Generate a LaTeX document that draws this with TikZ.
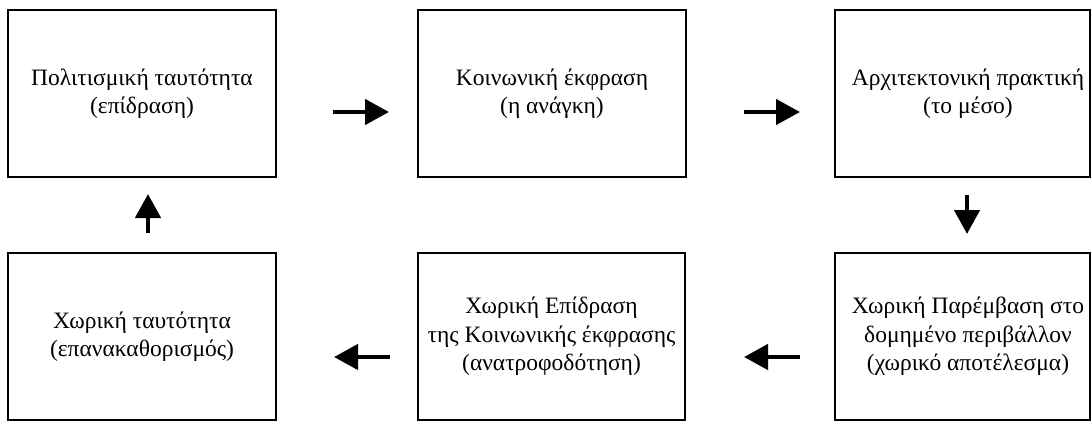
\documentclass[tikz,border=0pt]{standalone}
\usepackage{fontspec}
\setmainfont{Liberation Serif}
\usetikzlibrary{arrows.meta,calc}
\begin{document}
\begin{tikzpicture}[x=1pt,y=-1pt,
  box/.style={draw,line width=2pt,minimum height=167pt,inner sep=0pt,outer sep=0pt,anchor=north west,
              align=center,font=\fontsize{23.5}{28.5}\selectfont},
  lbl/.style={align=center,font=\fontsize{23.5}{28.5}\selectfont,inner sep=0pt},
  arr/.style={line width=4.5pt,-{Triangle[length=24pt,width=25pt]}}]
\fill[white] (0,0) rectangle (1091,421);
\useasboundingbox (0,0) rectangle (1091,421);
% top row
\node[box,minimum width=268pt] (b1) at (8,10) {Πολιτισμική ταυτότητα\\(επίδραση)};
\node[box,minimum width=268pt] (b2) at (418,10) {Κοινωνική έκφραση\\(η ανάγκη)};
\node[box,minimum width=255pt] (b3) at (835,10) {};
\node[lbl] (t3) at ($(b3.center)+(5.5,0)$) {Αρχιτεκτονική πρακτική\\(το μέσο)};
% bottom row
\node[box,minimum width=268pt] (b4) at (8,253) {Χωρική ταυτότητα\\(επανακαθορισμός)};
\node[box,minimum width=267pt] (b5) at (418,253) {Χωρική Επίδραση\\της Κοινωνικής έκφρασης\\(ανατροφοδότηση)};
\node[box,minimum width=255pt] (b6) at (835,253) {};
\node[lbl] (t6) at ($(b6.center)+(5.5,0)$) {Χωρική Παρέμβαση στο\\δομημένο περιβάλλον\\(χωρικό αποτέλεσμα)};
% arrows
\draw[arr] ($(b1.east)+(57,18.5)$) -- ($(b2.west)+(-29,18.5)$);
\draw[arr] ($(b2.east)+(58,18.5)$) -- ($(b3.west)+(-35,18.5)$);
\draw[arr] ($(b3.south)+(4.5,18)$) -- ($(b6.north)+(4.5,-19)$);
\draw[arr] ($(b6.west)+(-35,20.5)$) -- ($(b5.east)+(59,20.5)$);
\draw[arr] ($(b5.west)+(-28,20.5)$) -- ($(b4.east)+(58,20.5)$);
\draw[arr] ($(b4.north)+(6,-20)$) -- ($(b1.south)+(6,17)$);
\end{tikzpicture}
\end{document}
